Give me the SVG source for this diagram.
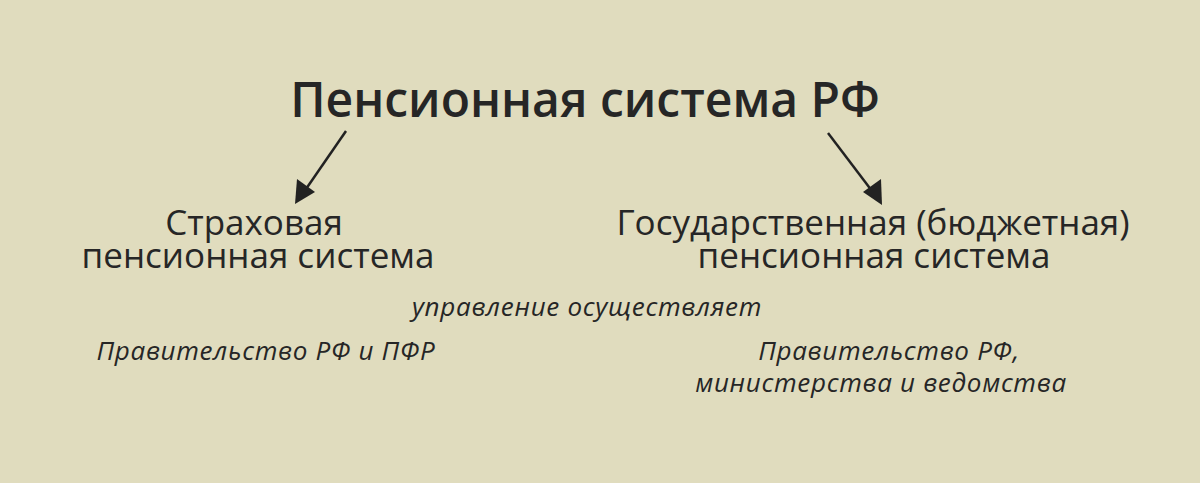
<svg xmlns="http://www.w3.org/2000/svg" width="1200" height="483" viewBox="0 0 1200 483">
<defs>
<style>
.t{font-family:"Open Sans","Noto Sans",sans-serif;fill:#262626;text-anchor:middle}
.title{font-size:48px;font-weight:600}
.sub{font-size:35px}
.it{font-size:26px;font-style:italic;letter-spacing:0.7px}
.arr{stroke:#222;stroke-width:2.5;fill:none}
</style>
</defs>
<rect width="1200" height="483" fill="#e0dcbe"/>
<g id="title"><text class="t title" x="585" y="117">Пенсионная система РФ</text></g>
<g id="insurance"><text class="t sub" x="254" y="235">Страховая</text><text class="t sub" x="258" y="268">пенсионная система</text></g>
<g id="state"><text class="t sub" x="873" y="235">Государственная (бюджетная)</text><text class="t sub" x="874" y="268">пенсионная система</text></g>
<g id="mgmt"><text class="t it" x="587" y="316">управление осуществляет</text></g>
<g id="gov1"><text class="t it" x="266" y="360">Правительство РФ и ПФР</text></g>
<g id="gov2"><text class="t it" x="889" y="360">Правительство РФ,</text><text class="t it" x="881" y="392">министерства и ведомства</text></g>
<g id="connectors">
<line class="arr" x1="346" y1="131" x2="306" y2="189"/>
<path d="M295,204 L297,179 L315,192 z" fill="#222"/>
<line class="arr" x1="828" y1="133" x2="872" y2="191"/>
<path d="M882,205 L863,192 L881,179 z" fill="#222"/>
</g>
</svg>
